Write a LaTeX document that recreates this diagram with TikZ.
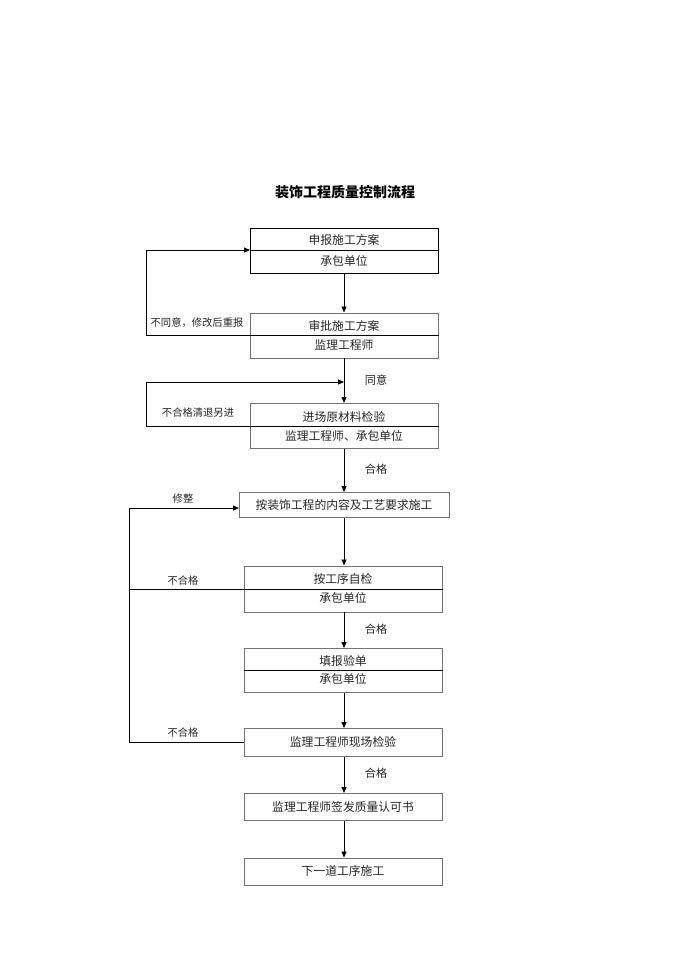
\documentclass[tikz,border=0pt]{standalone}
\usepackage{fontspec}
\newfontfamily\cjk{Noto Sans CJK SC}
\usetikzlibrary{arrows.meta}
\begin{document}
\begin{tikzpicture}[x=1pt,y=-1pt,
  box/.style={draw=black!55,line width=0.6pt,anchor=north west,inner sep=0pt},
  txt/.style={font=\cjk\fontsize{11.8}{12}\selectfont,inner sep=0pt,text=black!85},
  lbl/.style={font=\cjk\fontsize{10.3}{11}\selectfont,inner sep=0pt,text=black!85},
  lblr/.style={font=\cjk\fontsize{11.2}{12}\selectfont,inner sep=0pt,text=black!85},
  conn/.style={draw=black,line width=0.9pt},
  arr/.style={conn,-{Triangle[length=6pt,width=5pt]}},
  divline/.style={draw=black,line width=0.8pt}]
\useasboundingbox (0,0) rectangle (690,975);
% title
\node[font=\cjk\bfseries\fontsize{14}{15}\selectfont,inner sep=0pt] (title) at (345,192) {装饰工程质量控制流程};
% boxes
\node[box,draw=black,line width=0.8pt,minimum width=188pt,minimum height=45pt] (b1) at (250,228) {};
\node[box,minimum width=188pt,minimum height=45pt] (b2) at (250,312.5) {};
\node[box,minimum width=188pt,minimum height=45pt] (b3) at (250,403) {};
\node[box,minimum width=210pt,minimum height=25pt] (b4) at (239,492) {};
\node[box,minimum width=198pt,minimum height=46pt] (b5) at (244,565.5) {};
\node[box,minimum width=198pt,minimum height=44pt] (b6) at (244,648) {};
\node[box,minimum width=198pt,minimum height=28pt] (b7) at (244,728) {};
\node[box,minimum width=198pt,minimum height=27pt] (b8) at (244,793) {};
\node[box,minimum width=198pt,minimum height=27pt] (b9) at (244,857.5) {};
% texts
\node[txt] (t1a) at (344,240) {申报施工方案};
\node[txt] (t1b) at (344,261) {承包单位};
\node[txt] (t2a) at (344,326) {审批施工方案};
\node[txt] (t2b) at (344,345) {监理工程师};
\node[txt] (t3a) at (344,416.5) {进场原材料检验};
\node[txt] (t3b) at (344,436) {监理工程师、承包单位};
\node[txt] (t4) at (344,505) {按装饰工程的内容及工艺要求施工};
\node[txt] (t5a) at (343,579) {按工序自检};
\node[txt] (t5b) at (343,598) {承包单位};
\node[txt] (t6a) at (343,660.5) {填报验单};
\node[txt] (t6b) at (343,679) {承包单位};
\node[txt] (t7) at (343,742) {监理工程师现场检验};
\node[txt] (t8) at (343,806.5) {监理工程师签发质量认可书};
\node[txt] (t9) at (343,871) {下一道工序施工};
% labels
\node[lbl] (l1) at (197,323) {不同意，修改后重报};
\node[lblr] (l2) at (376,380) {同意};
\node[lbl] (l3) at (198,413) {不合格清退另进};
\node[lblr] (l4) at (376,469) {合格};
\node[lbl] (l5) at (183,499) {修整};
\node[lbl] (l6) at (183,581) {不合格};
\node[lblr] (l7) at (376,629) {合格};
\node[lbl] (l8) at (183,733) {不合格};
\node[lblr] (l9) at (376,773) {合格};
% coordinates
\coordinate (c1) at (146,335);
\coordinate (c2) at (146,426);
\coordinate (c3) at (129,742);
\coordinate (j2) at (344,382);
% dividers
\draw[divline] (b1.west |- 0,250) -- (b1.east |- 0,250);
\draw[divline] (b3.west |- 0,426) -- (b3.east |- 0,426);
\draw[divline] (b6.west |- 0,670) -- (b6.east |- 0,670);
% feedback loops
\draw[arr] (b2.east |- c1) -- (c1) |- (b1.west |- 0,250);
\draw[conn] (b3.west |- c2) -- (c2);
\draw[arr] (c2) |- (j2);
\draw[divline] (b5.east |- 0,589) -- (129,589);
\draw[arr] (b7.west |- c3) -- (c3) |- (b4.west |- 0,508);
% main arrows
\draw[arr] (b1.south -| 344,0) -- (b2.north -| 344,0);
\draw[arr] (b2.south -| 344,0) -- (b3.north -| 344,0);
\draw[arr] (b3.south -| 344,0) -- (b4.north -| 344,0);
\draw[arr] (b4.south -| 344,0) -- (b5.north -| 344,0);
\draw[arr] (b5.south -| 344,0) -- (b6.north -| 344,0);
\draw[arr] (b6.south -| 344,0) -- (b7.north -| 344,0);
\draw[arr] (b7.south -| 344,0) -- (b8.north -| 344,0);
\draw[arr] (b8.south -| 344,0) -- (b9.north -| 344,0);
\end{tikzpicture}
\end{document}
